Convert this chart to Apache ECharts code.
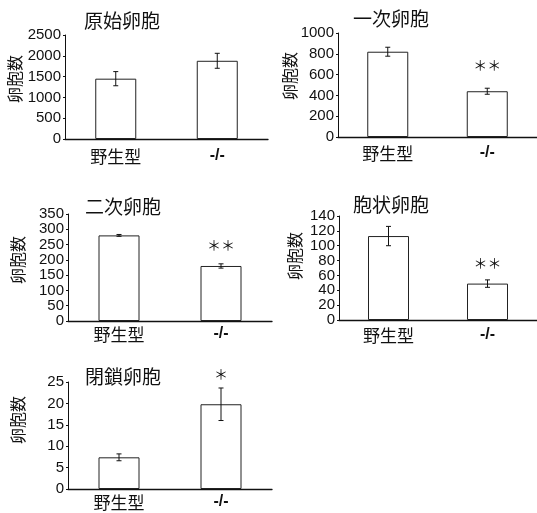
<!DOCTYPE html>
<html>
<head>
<meta charset="utf-8">
<script src="https://cdn.jsdelivr.net/npm/echarts@6/dist/echarts.min.js"></script>
<style>
  html, body { margin: 0; padding: 0; background: #fff; }
  #chart { width: 537px; height: 513px; }
</style>
</head>
<body>
<div id="chart"></div>
<script>
// 数据
var categories = ['野生型', '-/-'];
var titles = ['原始卵胞', '一次卵胞', '二次卵胞', '胞状卵胞', '閉鎖卵胞'];
var yName = '卵胞数';

var primordialMean = [1450, 1880];
var primordialErr = [170, 180];
var primaryMean = [820, 440];
var primaryErr = [43, 29];
var secondaryMean = [280, 180];
var secondaryErr = [3, 7];
var antralMean = [113, 49];
var antralErr = [13, 5];
var atreticMean = [7.4, 19.8];
var atreticErr = [0.8, 3.8];

var yMax = [2500, 1000, 350, 140, 25];
var yStep = [500, 200, 50, 20, 5];
var sigMarks = [['', ''], ['', '＊＊'], ['', '＊＊'], ['', '＊＊'], ['', '＊']];

var means = [primordialMean, primaryMean, secondaryMean, antralMean, atreticMean];
var errs = [primordialErr, primaryErr, secondaryErr, antralErr, atreticErr];

// 布局
var grids = [
    { left: 65, top: 35, width: 203, height: 104 },
    { left: 338, top: 33, width: 202, height: 104 },
    { left: 68, top: 214, width: 204, height: 107 },
    { left: 339, top: 216, width: 207, height: 104 },
    { left: 68, top: 382, width: 204, height: 107 }
];
var titlePos = [[117, 6], [386, 4], [118, 192], [386, 190], [118, 362]];
var namePos = [[15, 79], [290, 76], [18, 260], [295, 256], [18, 420]];
var xLabelMargin = [9, 8, 5, 7, 5];
var sigDist = [20, 20, 14, 14, 24];

var textFont = 'Liberation Sans, Arial, sans-serif';
var cjkFont = 'Noto Sans CJK JP, sans-serif';

function errorItem(params, api) {
    var x = api.value(0);
    var top = api.coord([x, api.value(2)]);
    var bot = api.coord([x, api.value(1)]);
    var hw = 2.5;
    var st = { stroke: '#111', lineWidth: 1 };
    return {
        type: 'group',
        children: [
            { type: 'line', shape: { x1: top[0], y1: top[1], x2: bot[0], y2: bot[1] }, style: st },
            { type: 'line', shape: { x1: top[0] - hw, y1: top[1], x2: top[0] + hw, y2: top[1] }, style: st },
            { type: 'line', shape: { x1: bot[0] - hw, y1: bot[1], x2: bot[0] + hw, y2: bot[1] }, style: st }
        ]
    };
}

var option = {
    backgroundColor: '#fff',
    animation: false,
    title: [],
    grid: [],
    xAxis: [],
    yAxis: [],
    series: [],
    graphic: []
};

for (var i = 0; i < 5; i++) {
    option.title.push({
        text: titles[i],
        left: titlePos[i][0],
        top: titlePos[i][1],
        textAlign: 'center',
        textStyle: { fontFamily: cjkFont, fontSize: 19, fontWeight: 'normal', color: '#111' }
    });
    option.graphic.push({
        type: 'text',
        x: namePos[i][0],
        y: namePos[i][1],
        rotation: Math.PI / 2,
        style: {
            text: yName,
            align: 'center',
            verticalAlign: 'middle',
            font: '16px ' + cjkFont,
            fill: '#111'
        }
    });
    option.grid.push(grids[i]);
    option.xAxis.push({
        type: 'category',
        gridIndex: i,
        data: categories,
        axisLine: { lineStyle: { color: '#111', width: 1.3 } },
        axisTick: { show: false },
        axisLabel: {
            margin: xLabelMargin[i],
            color: '#111',
            fontFamily: cjkFont,
            fontSize: 17,
            formatter: function (v) { return v === '-/-' ? '{b|' + v + '}' : v; },
            rich: { b: { fontFamily: textFont, fontWeight: 'bold', fontSize: 16, color: '#111' } }
        }
    });
    option.yAxis.push({
        type: 'value',
        gridIndex: i,
        min: 0,
        max: yMax[i],
        interval: yStep[i],
        axisLine: { show: true, lineStyle: { color: '#111', width: 1 } },
        axisTick: { show: true, length: 2, lineStyle: { color: '#111' } },
        splitLine: { show: false },
        axisLabel: {
            margin: 4,
            color: '#111',
            fontFamily: textFont,
            fontSize: 15,
            formatter: function (v) { return String(v); }
        }
    });
    (function (k) {
        option.series.push({
            type: 'bar',
            xAxisIndex: k,
            yAxisIndex: k,
            data: means[k],
            barWidth: 41,
            itemStyle: { color: '#fff', borderColor: '#222', borderWidth: 1 },
            label: {
                show: true,
                position: 'top',
                distance: sigDist[k],
                formatter: function (p) { return sigMarks[k][p.dataIndex]; },
                fontFamily: cjkFont,
                fontSize: 14,
                color: '#111'
            }
        });
        var ebData = means[k].map(function (m, j) {
            return [j, m - errs[k][j], m + errs[k][j]];
        });
        option.series.push({
            type: 'custom',
            xAxisIndex: k,
            yAxisIndex: k,
            data: ebData,
            encode: { x: 0, y: [1, 2] },
            renderItem: errorItem,
            z: 10
        });
    })(i);
}

var myChart = echarts.init(document.getElementById('chart'));
option && myChart.setOption(option);
</script>
</body>
</html>
